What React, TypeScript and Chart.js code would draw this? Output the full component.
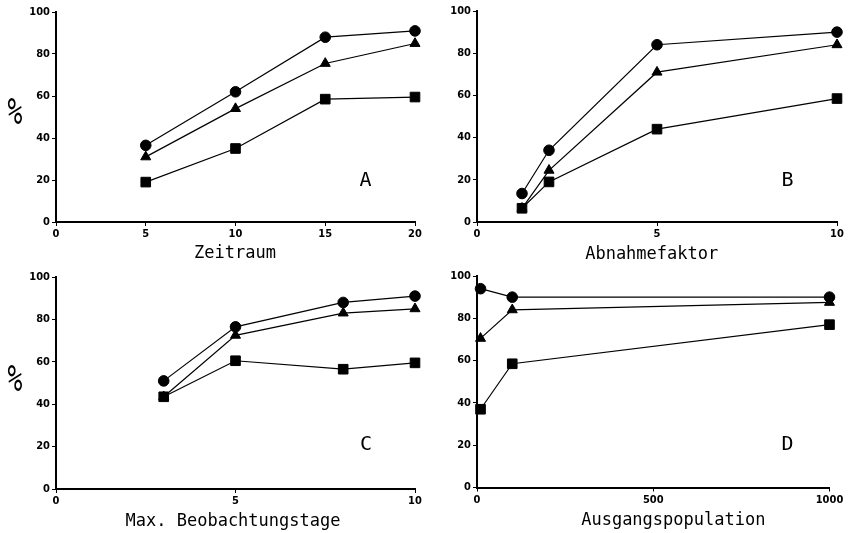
import React, { useEffect, useRef } from "react";
import { Chart, registerables } from "chart.js";

Chart.register(...registerables);

// ---------- DATA ----------
const aX = [5, 10, 15, 20];
const aCircle = [36.5, 62, 88, 91];
const aTriangle = [31, 54, 75.5, 85];
const aSquare = [19, 35, 58.5, 59.5];

const bX = [1.25, 2, 5, 10];
const bCircle = [13.5, 34, 84, 90];
const bTriangle = [6.5, 24.5, 71, 84];
const bSquare = [6.5, 19, 44, 58.5];

const cX = [3, 5, 8, 10];
const cCircle = [51, 76.5, 88, 91];
const cTriangle = [43.5, 72.5, 83, 85];
const cSquare = [43.5, 60.5, 56.5, 59.5];

const dX = [10, 100, 1000];
const dCircle = [94, 90, 90];
const dTriangle = [70.5, 84, 87.5];
const dSquare = [37, 58.5, 77];

const yTicksMax = 100;
const yTickStep = 20;

type PanelDef = {
  letter: string;
  xTitle: string;
  showPercent: boolean;
  xs: number[];
  circle: number[];
  triangle: number[];
  square: number[];
  xMax: number;
  xStep: number;
  left: number;
  top: number;
  w: number;
  h: number;
  area: { l: number; t: number; r: number; b: number };
  letterPos: [number, number];
  titlePos: [number, number];
  percentPos: [number, number];
};

const panels: PanelDef[] = [
  {
    letter: "A", xTitle: "Zeitraum", showPercent: true,
    xs: aX, circle: aCircle, triangle: aTriangle, square: aSquare, xMax: 20, xStep: 5,
    left: 0, top: 0, w: 425, h: 266,
    area: { l: 56, t: 12, r: 415, b: 222 },
    letterPos: [365.5, 180.5], titlePos: [235, 254], percentPos: [15, 114],
  },
  {
    letter: "B", xTitle: "Abnahmefaktor", showPercent: false,
    xs: bX, circle: bCircle, triangle: bTriangle, square: bSquare, xMax: 10, xStep: 5,
    left: 425, top: 0, w: 426, h: 266,
    area: { l: 52, t: 11, r: 412, b: 222 },
    letterPos: [362.5, 180.5], titlePos: [226.7, 255], percentPos: [0, 0],
  },
  {
    letter: "C", xTitle: "Max. Beobachtungstage", showPercent: true,
    xs: cX, circle: cCircle, triangle: cTriangle, square: cSquare, xMax: 10, xStep: 5,
    left: 0, top: 266, w: 425, h: 267,
    area: { l: 56, t: 11, r: 415, b: 223 },
    letterPos: [366, 178.5], titlePos: [233, 256], percentPos: [15, 115],
  },
  {
    letter: "D", xTitle: "Ausgangspopulation", showPercent: false,
    xs: dX, circle: dCircle, triangle: dTriangle, square: dSquare, xMax: 1000, xStep: 500,
    left: 425, top: 266, w: 426, h: 267,
    area: { l: 52, t: 10, r: 404.5, b: 221.5 },
    letterPos: [362.5, 179], titlePos: [248.3, 254.5], percentPos: [0, 0],
  },
];

const MONO = "'DejaVu Sans Mono', monospace";
const TICKFONT = "'DejaVu Sans Condensed', 'DejaVu Sans', sans-serif";

function PanelChart({ p }: { p: PanelDef }) {
  const ref = useRef<HTMLCanvasElement | null>(null);

  useEffect(() => {
    if (!ref.current) return;
    const pts = (ys: number[]) => p.xs.map((x, i) => ({ x, y: ys[i] }));
    const ds = (label: string, ys: number[], style: any, r: number) => ({
      label,
      data: pts(ys),
      pointStyle: style,
      pointRadius: r,
      pointHoverRadius: r,
      backgroundColor: "#000",
      borderColor: "#000",
      borderWidth: 1.2,
      pointBorderWidth: 1,
      showLine: true,
      tension: 0,
      clip: false as any,
    });

    const textPlugin = {
      id: "panelText",
      afterDraw(chart: any) {
        const ctx = chart.ctx as CanvasRenderingContext2D;
        ctx.save();
        ctx.fillStyle = "#000";
        ctx.textAlign = "center";
        ctx.textBaseline = "middle";
        ctx.font = `17px ${MONO}`;
        ctx.fillText(p.xTitle, p.titlePos[0], p.titlePos[1]);
        ctx.font = `20px ${MONO}`;
        ctx.fillText(p.letter, p.letterPos[0], p.letterPos[1]);
        if (p.showPercent) {
          ctx.save();
          ctx.translate(p.percentPos[0], p.percentPos[1]);
          ctx.scale(0.95, 1.45);
          ctx.font = `26px ${MONO}`;
          ctx.fillText("%", 0, 0);
          ctx.restore();
        }
        ctx.restore();
      },
    };

    const tickFont = { family: TICKFONT, size: 11, weight: "bold" };

    const chart = new Chart(ref.current, {
      type: "scatter",
      data: {
        datasets: [
          ds("Dreieck", p.triangle, "triangle", 5.8),
          ds("Kreis", p.circle, "circle", 5.3),
          ds("Quadrat", p.square, "rect", 6.8),
        ],
      },
      options: {
        responsive: false,
        animation: false,
        events: [],
        layout: {
          padding: { left: 0, top: p.area.t, right: p.w - p.area.r, bottom: 0 },
        },
        plugins: {
          legend: { display: false },
          tooltip: { enabled: false },
          title: { display: false },
        },
        scales: {
          x: {
            type: "linear",
            min: 0,
            max: p.xMax,
            afterFit: (s: any) => { s.height = p.h - p.area.b; },
            border: { display: true, color: "#000", width: 2 },
            grid: { display: true, drawOnChartArea: false, drawTicks: true, tickLength: 4, color: "#000", lineWidth: 1 },
            ticks: {
              stepSize: p.xStep,
              color: "#000",
              padding: 2,
              maxRotation: 0,
              font: tickFont,
              callback: (v: any) => String(v),
            },
          },
          y: {
            type: "linear",
            min: 0,
            max: yTicksMax,
            afterFit: (s: any) => { s.width = p.area.l; },
            border: { display: true, color: "#000", width: 2 },
            grid: { display: true, drawOnChartArea: false, drawTicks: true, tickLength: 4, color: "#000", lineWidth: 1 },
            ticks: {
              stepSize: yTickStep,
              color: "#000",
              padding: 2,
              font: tickFont,
              callback: (v: any) => String(v),
            },
          },
        },
      } as any,
      plugins: [textPlugin],
    });
    return () => chart.destroy();
  }, [p]);

  return (
    <canvas
      ref={ref}
      width={p.w}
      height={p.h}
      style={{ position: "absolute", left: p.left, top: p.top, width: p.w, height: p.h }}
    />
  );
}

export default function App() {
  return (
    <div
      style={{
        position: "fixed",
        left: 0,
        top: 0,
        width: 851,
        height: 533,
        background: "#fff",
        overflow: "hidden",
      }}
    >
      {panels.map((p) => (
        <PanelChart key={p.letter} p={p} />
      ))}
    </div>
  );
}
